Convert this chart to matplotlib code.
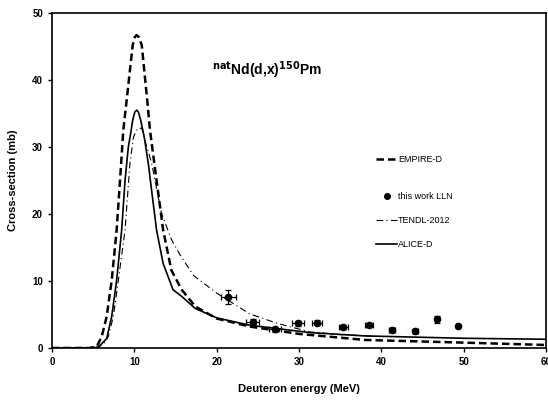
import numpy as np
import matplotlib
matplotlib.use('Agg')
import matplotlib.pyplot as plt
from matplotlib.lines import Line2D

plt.rcParams['font.family'] = ['Liberation Sans', 'DejaVu Sans']

# EMPIRE-D curve
empire_e = [0, 4.5, 5.43, 6.04, 6.64, 7.25, 7.85, 8.26, 8.66, 9.07, 9.47, 9.8, 10.05,
            10.28, 10.55, 10.9, 11.2, 11.6, 11.9, 12.7, 13.5, 14.5, 15.75, 17.4,
            20, 24, 30, 38, 50, 60]
empire_xs = [0, 0, 0.2, 1.7, 4.7, 10.1, 17.6, 25, 32.5, 37, 41.5, 45.2, 46.4,
             46.7, 46.4, 45.2, 41.5, 36.5, 32.5, 25, 17.6, 11.6, 8.7, 6.2,
             4.4, 3.2, 2.1, 1.2, 0.8, 0.45]

# ALICE-D curve
alice_e = [0, 4.5, 5.6, 6.64, 7.25, 7.85, 8.46, 8.87, 9.27, 9.55, 9.8, 10.05, 10.28,
           10.5, 10.77, 11.2, 11.7, 12.2, 12.7, 13.5, 14.7, 15.75, 17.4, 20, 24,
           31.3, 38, 50, 60]
alice_xs = [0, 0, 0.1, 1.4, 4.7, 10.1, 17.6, 25, 30, 32, 34, 35.2, 35.5,
            35.2, 34, 31.5, 27.5, 22.5, 17.6, 12.6, 8.7, 7.7, 5.9, 4.5, 3.4,
            2.3, 1.8, 1.45, 1.3]

# TENDL-2012 curve
tendl_e = [0, 5.2, 6.2, 6.84, 7.45, 8.06, 8.87, 9.47, 9.9, 10.4, 10.9, 11.4, 12.1,
           13.3, 14.5, 15.5, 17.2, 20, 24, 27.3, 31.3, 35, 40]
tendl_xs = [0, 0, 0.5, 1.7, 4.7, 10.1, 17.6, 27.6, 31.5, 32.8, 32.8, 30.5, 27.6,
            20.1, 16.2, 14.0, 10.8, 8.2, 5.1, 3.7, 2.4, 2.0, 1.7]

# this work LLN
exp_e = [21.4, 24.4, 27.1, 29.9, 32.2, 35.4, 38.5, 41.3, 44.1, 46.7, 49.3]
exp_xs = [7.6, 3.9, 2.8, 3.7, 3.8, 3.2, 3.4, 2.7, 2.5, 4.3, 3.3]
exp_de = [0.9, 0.8, 0.7, 0.7, 0.6, 0.5, 0.5, 0.4, 0.3, 0.2, 0.1]
exp_dxs = [1.0, 0.5, 0.4, 0.4, 0.4, 0.3, 0.3, 0.3, 0.3, 0.5, 0.2]

fig = plt.figure(figsize=(5.48, 4.01), dpi=100)
ax = fig.add_axes([0.0949, 0.1322, 0.9015, 0.8354])

l_emp, = ax.plot(empire_e, empire_xs, color='black', lw=1.8, ls=(0, (3, 1.6)),
                 label='EMPIRE-D')
ax.errorbar(exp_e, exp_xs, xerr=exp_de, yerr=exp_dxs, fmt='o', color='black',
            ms=4.5, elinewidth=0.9, capsize=2, capthick=0.9)
l_ten, = ax.plot(tendl_e, tendl_xs, color='black', lw=0.8,
                 ls=(0, (6, 3, 1, 3)), label='TENDL-2012')
l_ali, = ax.plot(alice_e, alice_xs, color='black', lw=1.2, label='ALICE-D')
h_exp = Line2D([], [], ls='none', marker='o', color='black', ms=4,
               label='this work LLN')

ax.set_xlim(0, 60)
ax.set_ylim(0, 50)
ax.set_xticks(np.arange(0, 61, 10))
ax.set_yticks(np.arange(0, 51, 10))
for lab in ax.get_xticklabels() + ax.get_yticklabels():
    lab.set_fontweight('bold')
    lab.set_fontsize(7)
ax.tick_params(direction='out', length=3, width=1)
for sp in ax.spines.values():
    sp.set_linewidth(1.2)

ax.set_xlabel('Deuteron energy (MeV)', fontsize=8, fontweight='bold', labelpad=12)
ax.set_ylabel('Cross-section (mb)', fontsize=8, fontweight='bold', labelpad=10)

ax.text(0.435, 0.83, r'$^{\mathbf{nat}}$Nd(d,x)$^{\mathbf{150}}$Pm', transform=ax.transAxes,
        ha='center', va='center', fontsize=10, fontweight='bold')

leg1 = ax.legend(handles=[l_emp], loc='upper left', bbox_to_anchor=(0.64, 0.60),
                 frameon=False, fontsize=6.5, handlelength=2.3, handletextpad=0.1)
ax.add_artist(leg1)
ax.legend(handles=[h_exp, l_ten, l_ali], loc='upper left', bbox_to_anchor=(0.64, 0.49),
          frameon=False, fontsize=6.5, handlelength=2.3, handletextpad=0.1,
          labelspacing=1.65)

fig.savefig('out.png', dpi=100)
